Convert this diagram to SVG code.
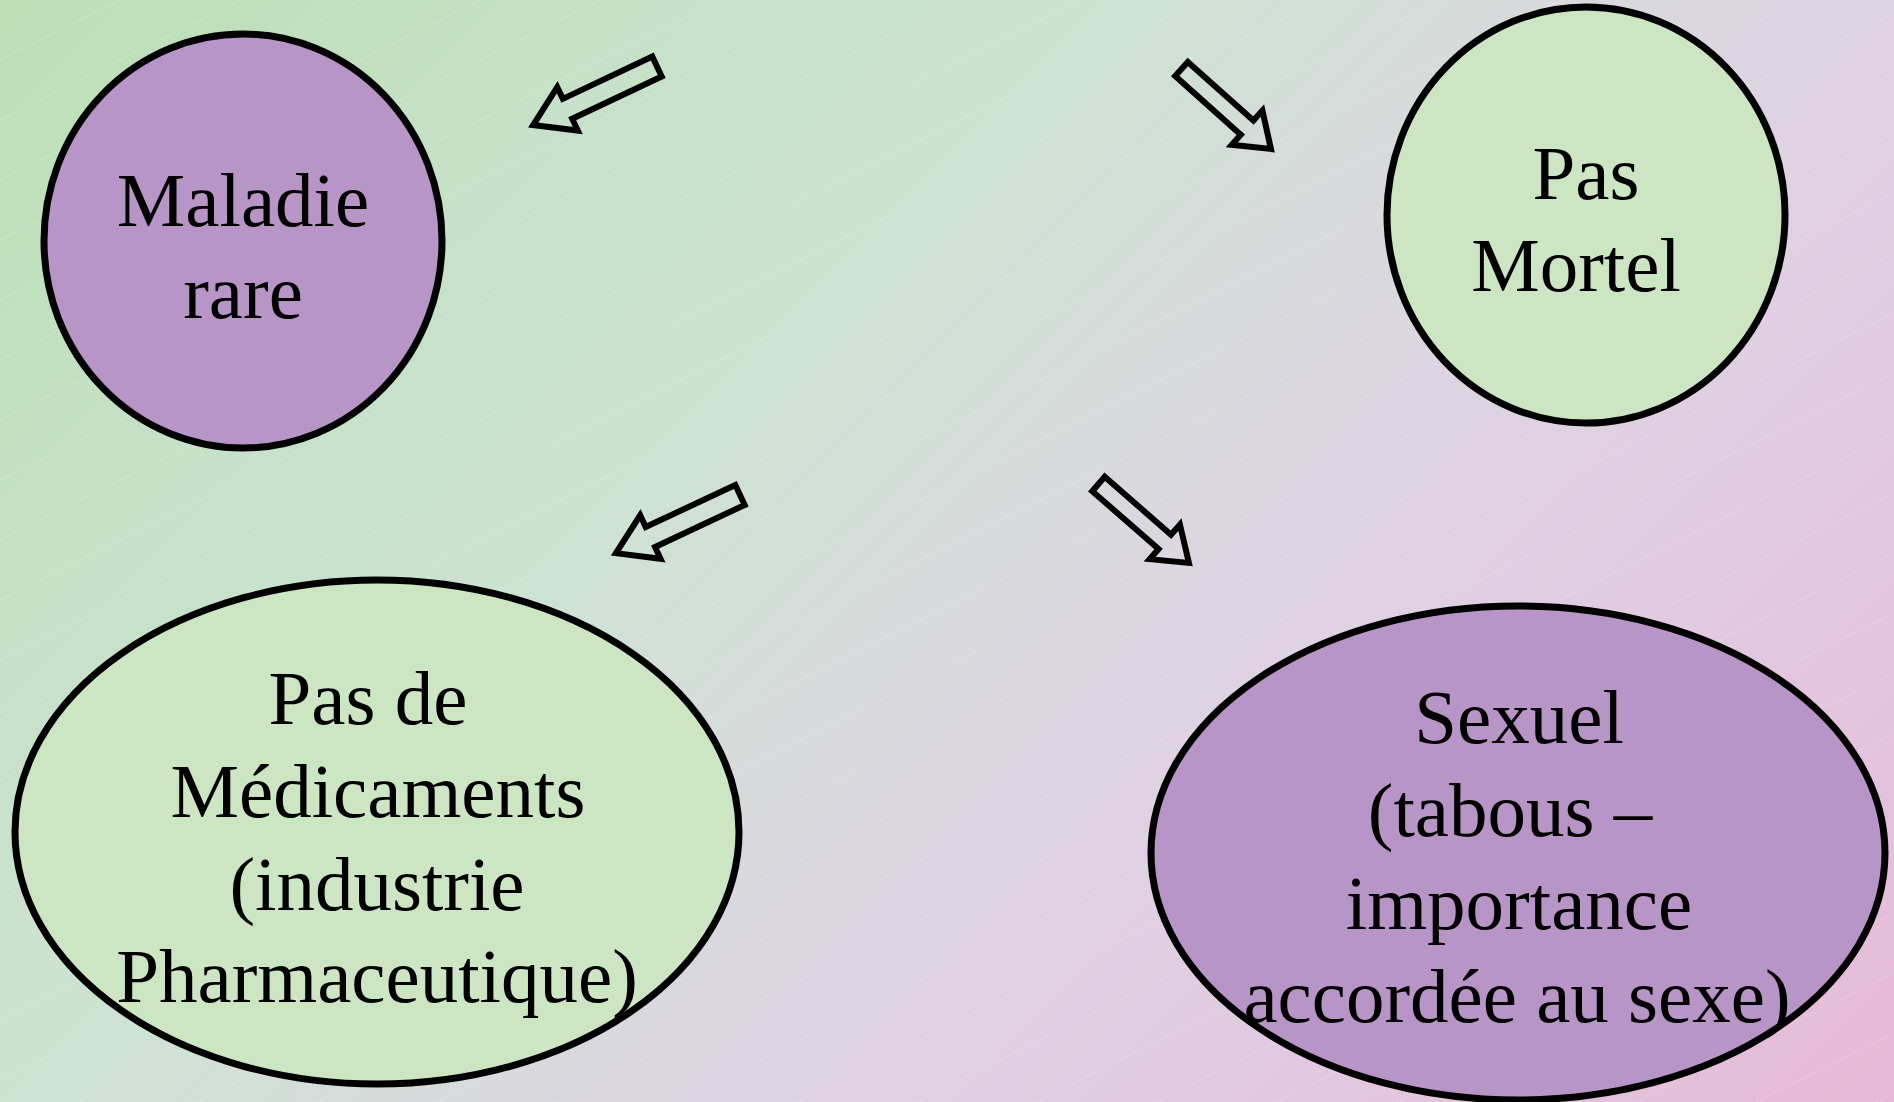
<svg xmlns="http://www.w3.org/2000/svg" width="1894" height="1102" viewBox="0 0 1894 1102">
<style>
.node{stroke:#000;stroke-width:7}
.purple{fill:#b795c6}
.green{fill:#cce6c4}
.lbl{font-family:"Liberation Serif","Times New Roman",serif;font-size:77px;fill:#000;text-anchor:middle}
.arrow{fill:none;stroke:#000;stroke-width:6;stroke-linejoin:miter}
</style>
<defs>
<linearGradient id="bg" gradientUnits="userSpaceOnUse" x1="0" y1="0" x2="1498" y2="1498">
<stop offset="0" stop-color="#bcdfb6"/>
<stop offset="0.38" stop-color="#cde3d3"/>
<stop offset="0.5" stop-color="#d7dbdb"/>
<stop offset="0.63" stop-color="#ded3e3"/>
<stop offset="0.8" stop-color="#e2c8df"/>
<stop offset="1" stop-color="#e6bad6"/>
</linearGradient>
<pattern id="tex" patternUnits="userSpaceOnUse" width="120" height="60">
<line x1="0" y1="60" x2="120" y2="0" stroke="#ffffff" stroke-opacity="0.2" stroke-width="1" stroke-dasharray="3 2"/>
</pattern>
<path id="arrA" d="M0,-11 H99 V-24 L137,0 L99,24 V11 H0 Z"/>
<path id="arrB" d="M0,-9.5 H88 V-23 L120,0 L88,23 V9.5 H0 Z"/>
</defs>
<rect width="1894" height="1102" fill="url(#bg)"/>
<rect width="1894" height="1102" fill="url(#tex)"/>
<g id="connectors">
<use href="#arrA" class="arrow" transform="translate(657,66.5) rotate(154.7)"/>
<use href="#arrB" class="arrow" transform="translate(1181.5,69) rotate(41.8)"/>
<use href="#arrA" class="arrow" transform="translate(740,495) rotate(154.9)"/>
<use href="#arrB" class="arrow" transform="translate(1098.5,484) rotate(41.1)"/>
</g>
<g id="node-maladie">
<ellipse class="node purple" cx="243" cy="241" rx="199" ry="207"/>
<text class="lbl" x="243" y="226">Maladie</text>
<text class="lbl" x="243" y="318">rare</text>
</g>
<g id="node-mortel">
<ellipse class="node green" cx="1586" cy="215" rx="199" ry="208"/>
<text class="lbl" x="1586" y="199">Pas</text>
<text class="lbl" x="1576" y="291">Mortel</text>
</g>
<g id="node-medicaments">
<ellipse class="node green" cx="377" cy="832" rx="362" ry="252"/>
<text class="lbl" x="368" y="724">Pas de</text>
<text class="lbl" x="378" y="817">Médicaments</text>
<text class="lbl" x="377" y="910">(industrie</text>
<text class="lbl" x="377" y="1002">Pharmaceutique)</text>
</g>
<g id="node-sexuel">
<ellipse class="node purple" cx="1518" cy="853" rx="367" ry="247"/>
<text class="lbl" x="1519" y="743">Sexuel</text>
<text class="lbl" x="1510" y="836">(tabous –</text>
<text class="lbl" x="1519" y="929">importance</text>
<text class="lbl" x="1517" y="1022">accordée au sexe)</text>
</g>
</svg>
